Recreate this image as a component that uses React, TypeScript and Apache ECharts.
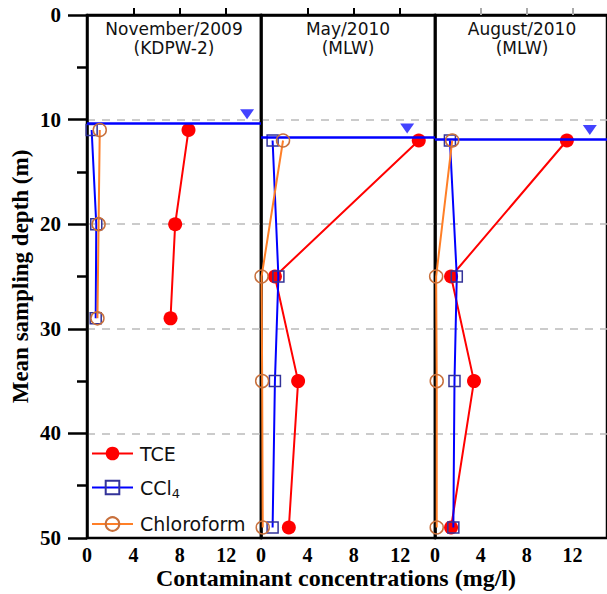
import React, { useEffect, useRef } from "react";
import * as echarts from "echarts";

// Panels
const panelTitles = ["November/2009\n(KDPW-2)", "May/2010\n(MLW)", "August/2010\n(MLW)"];

// Sampling depths (m)
const depthsNov = [11, 20, 29];
const depthsMay = [12, 25, 35, 49];
const depthsAug = [12, 25, 35, 49];

// Concentrations (mg/l)
const tceNov = [8.75, 7.6, 7.2];
const ccl4Nov = [0.4, 0.8, 0.75];
const chlNov = [1.1, 1.0, 0.9];

const tceMay = [13.6, 1.2, 3.2, 2.4];
const ccl4May = [1.0, 1.5, 1.2, 1.0];
const chlMay = [1.9, 0.05, 0.1, 0.15];

const tceAug = [11.5, 1.4, 3.4, 1.4];
const ccl4Aug = [1.3, 1.9, 1.7, 1.6];
const chlAug = [1.5, 0.1, 0.15, 0.15];

// Groundwater level per panel
const waterLevels = [10.35, 11.7, 11.9];
const triangleX = [13.8, 12.6, 13.5];
const triangleDepth = [9.5, 10.85, 11.0];

const xTicks = [0, 4, 8, 12];

const SERIF = '"Liberation Serif", "Times New Roman", serif';
const SANS = '"DejaVu Sans", Verdana, sans-serif';

const panels = [
  { depths: depthsNov, tce: tceNov, ccl4: ccl4Nov, chl: chlNov },
  { depths: depthsMay, tce: tceMay, ccl4: ccl4May, chl: chlMay },
  { depths: depthsAug, tce: tceAug, ccl4: ccl4Aug, chl: chlAug },
];

const pair = (xs: number[], ys: number[]) => xs.map((x, i) => [x, ys[i]]);

export default function App() {
  const ref = useRef<HTMLDivElement>(null);
  useEffect(() => {
    if (!ref.current) return;
    const chart = echarts.init(ref.current, null, { renderer: "svg" });
    const gridLeft = [87, 261, 435];
    const gridW = 174;

    const grids = gridLeft.map((l) => ({
      left: l,
      top: 15,
      width: gridW,
      height: 523,
      show: true,
      borderColor: "#000",
      borderWidth: 2.5,
      backgroundColor: "transparent",
    }));

    const xAxes = gridLeft.map((_, i) => ({
      type: "value",
      gridIndex: i,
      min: 0,
      max: 15,
      position: "bottom",
      axisLine: { show: true, lineStyle: { color: "#000", width: 2.5 } },
      axisTick: {
        show: true,
        inside: true,
        length: 7,
        customValues: [4, 8, 12],
        lineStyle: { color: i === 2 ? "#aaa" : "#000", width: 2 },
      },
      axisLabel: {
        show: true,
        customValues: xTicks,
        margin: 7,
        color: "#000",
        fontFamily: SERIF,
        fontWeight: "bold",
        fontSize: 20,
      },
      splitLine: { show: false },
    }));

    const yAxes = gridLeft.map((_, i) => ({
      type: "value",
      gridIndex: i,
      inverse: true,
      min: 0,
      max: 50,
      interval: 10,
      name: i === 0 ? "Mean sampling depth (m)" : "",
      nameLocation: "middle",
      nameRotate: 90,
      nameGap: 55,
      nameTextStyle: { fontFamily: SERIF, fontWeight: "bold", fontSize: 23, color: "#000" },
      axisLine: { show: true, lineStyle: { color: "#000", width: 2.5 } },
      axisTick: {
        show: i === 0,
        inside: false,
        length: 19,
        lineStyle: { color: "#000", width: 2.5 },
      },
      minorTick: {
        show: i === 0,
        splitNumber: 2,
        length: 10,
        lineStyle: { color: "#000", width: 2.5 },
      },
      axisLabel: {
        show: i === 0,
        margin: 26,
        color: "#000",
        fontFamily: SERIF,
        fontWeight: "bold",
        fontSize: 21,
      },
      splitLine: {
        show: true,
        showMinLine: false,
        showMaxLine: false,
        lineStyle: { color: "#bbb", width: 1.5, type: [8, 7] },
      },
    }));

    const series: any[] = [];
    panels.forEach((p, i) => {
      series.push({
        name: "TCE",
        type: "line",
        xAxisIndex: i,
        yAxisIndex: i,
        data: pair(p.tce, p.depths),
        symbol: "circle",
        symbolSize: 14,
        lineStyle: { color: "#ff0000", width: 2 },
        itemStyle: { color: "#ff0000", borderWidth: 0 },
        z: 3,
      });
      series.push({
        name: "CCl4",
        type: "line",
        xAxisIndex: i,
        yAxisIndex: i,
        data: pair(p.ccl4, p.depths),
        symbol: "rect",
        symbolSize: 11,
        lineStyle: { color: "#0000ff", width: 2 },
        itemStyle: { color: "rgba(255,255,255,0)", borderColor: "#333399", borderWidth: 1.5 },
        z: 4,
      });
      series.push({
        name: "Chloroform",
        type: "line",
        xAxisIndex: i,
        yAxisIndex: i,
        data: pair(p.chl, p.depths),
        symbol: "circle",
        symbolSize: 13,
        lineStyle: { color: "#ff7f27", width: 2 },
        itemStyle: { color: "rgba(255,255,255,0)", borderColor: "#c8703c", borderWidth: 1.5 },
        z: 5,
      });
      series.push({
        name: "water" + i,
        type: "scatter",
        xAxisIndex: i,
        yAxisIndex: i,
        data: [[triangleX[i], triangleDepth[i]]],
        symbol: "triangle",
        symbolRotate: 180,
        symbolSize: [14, 10],
        itemStyle: { color: "#1414ff" },
        silent: true,
        z: 6,
        markLine: {
          silent: true,
          symbol: "none",
          label: { show: false },
          lineStyle: { color: "#0000ff", width: 2.5, type: "solid" },
          data: [{ yAxis: waterLevels[i] }],
        },
      });
    });

    const graphics: any[] = panelTitles.map((t, i) => ({
      type: "text",
      x: gridLeft[i] + gridW / 2,
      y: 19,
      style: {
        text: t,
        textAlign: "center",
        textVerticalAlign: "top",
        font: `17px ${SANS}`,
        fill: "#111",
        lineHeight: 19,
      },
    }));
    graphics.push({
      type: "text",
      x: 336,
      y: 578,
      style: {
        text: "Contaminant concentrations (mg/l)",
        textAlign: "center",
        textVerticalAlign: "middle",
        font: `bold 24px ${SERIF}`,
        fill: "#000",
      },
    });

    chart.setOption({
      animation: false,
      backgroundColor: "#fff",
      grid: grids,
      xAxis: xAxes,
      yAxis: yAxes,
      legend: {
        data: ["TCE", "CCl4", "Chloroform"],
        orient: "vertical",
        left: 86,
        top: 439,
        itemWidth: 41,
        itemHeight: 17,
        itemGap: 15,
        selectedMode: false,
        formatter: (name: string) => (name === "CCl4" ? "CCl{s|4}" : name),
        textStyle: {
          fontFamily: SANS,
          fontSize: 19,
          color: "#111",
          padding: [0, 0, 0, 2],
          rich: {
            s: { fontFamily: SANS, fontSize: 13, color: "#111", verticalAlign: "bottom", padding: [11, 0, 0, 0] },
          },
        },
      },
      series,
      graphic: graphics,
    });
    return () => chart.dispose();
  }, []);
  return (
    <div
      ref={ref}
      style={{ position: "fixed", left: 0, top: 0, width: 607, height: 594 }}
    />
  );
}
